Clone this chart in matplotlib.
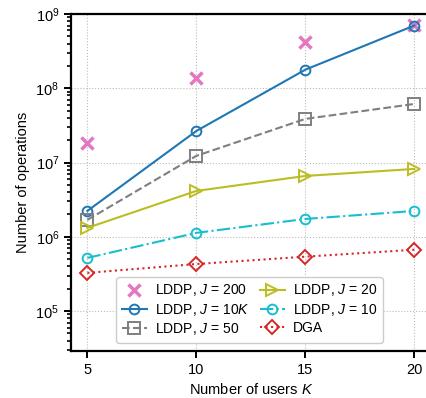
import matplotlib
matplotlib.use("Agg")
import matplotlib.pyplot as plt
import numpy as np

plt.rcParams['font.family'] = ['Liberation Sans', 'DejaVu Sans']
plt.rcParams['mathtext.fontset'] = 'custom'
plt.rcParams['mathtext.rm'] = 'Liberation Sans'
plt.rcParams['mathtext.it'] = 'Liberation Sans:italic'
plt.rcParams['font.size'] = 10

users = [5, 10, 15, 20]
j200 = [1.84e7, 1.38e8, 4.2e8, 7.1e8]
j10k = [2.23e6, 2.66e7, 1.78e8, 7.0e8]
j50 = [1.69e6, 1.23e7, 3.87e7, 6.15e7]
j20 = [1.32e6, 4.15e6, 6.6e6, 8.2e6]
j10 = [5.2e5, 1.13e6, 1.74e6, 2.23e6]
dga = [3.27e5, 4.3e5, 5.4e5, 6.7e5]


def main():
    fig = plt.figure(figsize=(4.26, 3.98), dpi=100)
    ax = fig.add_axes([0.1667, 0.1181, 0.8443, 0.8467])

    ax.plot(users, j200, ls='none', marker='x', ms=9, mew=2.5,
            color='#e377c2', label=r'LDDP, $J$ = 200')
    ax.plot(users, j10k, '-', marker='o', ms=7, mfc='none', mew=1.4, lw=1.5,
            color='#1f77b4', label=r'LDDP, $J$ = 10$K$')
    ax.plot(users, j50, '--', marker='s', ms=8, mfc='none', mew=1.4, lw=1.5,
            color='#7f7f7f', label=r'LDDP, $J$ = 50')
    ax.plot(users, j20, '-', marker='>', ms=8, mfc='none', mew=1.4, lw=1.5,
            color='#bcbd22', label=r'LDDP, $J$ = 20')
    ax.plot(users, j10, '-.', marker='o', ms=7, mfc='none', mew=1.4, lw=1.5,
            color='#17becf', label=r'LDDP, $J$ = 10')
    ax.plot(users, dga, ':', marker='D', ms=7, mfc='none', mew=1.4, lw=1.5,
            color='#d62728', label='DGA')

    ax.set_yscale('log')
    ax.set_ylim(2.9e4, 1e9)
    ax.set_xlim(4.25, 20.75)
    ax.set_xticks(users)
    ax.grid(True, which='major', ls=':', color='#bbbbbb', lw=0.8)
    for s in ax.spines.values():
        s.set_linewidth(1.6)
    ax.tick_params(which='major', width=1.4, length=5, labelsize=10.5)
    ax.tick_params(which='minor', width=1.2, length=3)

    ax.set_xlabel(r'Number of users $K$', fontsize=10.5)
    ax.set_ylabel('Number of operations', fontsize=10.5)

    ax.legend(ncol=2, loc='lower right', bbox_to_anchor=(0.867, 0.024),
              borderaxespad=0, handlelength=1.8, columnspacing=0.7,
              handletextpad=0.6, labelspacing=0.25, borderpad=0.4,
              framealpha=1.0)

    fig.savefig('out.png', dpi=100)


if __name__ == "__main__":
    main()
